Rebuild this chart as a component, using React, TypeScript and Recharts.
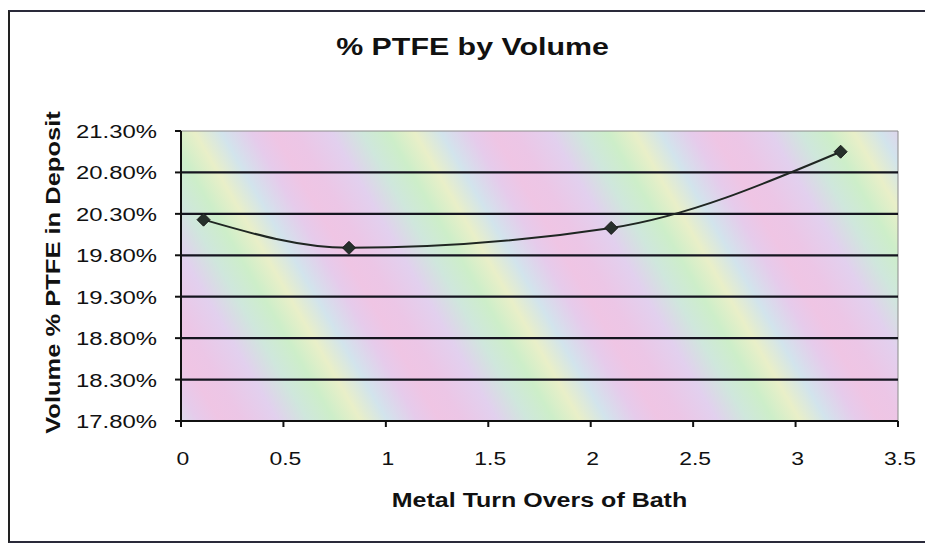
import React from "react";
import {
  LineChart,
  Line,
  XAxis,
  YAxis,
  ReferenceArea,
  ReferenceLine,
  Customized,
} from "recharts";

const xValues = [0.11, 0.82, 2.1, 3.22];
const yValues = [20.23, 19.89, 20.13, 21.05];
const xTicks = [0, 0.5, 1, 1.5, 2, 2.5, 3, 3.5];
const yTicks = [17.8, 18.3, 18.8, 19.3, 19.8, 20.3, 20.8, 21.3];
const chartTitle = "% PTFE by Volume";
const xTitle = "Metal Turn Overs of Bath";
const yTitle = "Volume % PTFE in Deposit";

const data = xValues.map((x, i) => ({ x, y: yValues[i] }));
const xDomain: [number, number] = [xTicks[0], xTicks[xTicks.length - 1]];
const yDomain: [number, number] = [yTicks[0], yTicks[yTicks.length - 1]];
const innerY = yTicks.slice(1, -1);

const FONT = "'Liberation Sans', Arial, sans-serif";

const YTick = (props: any) => {
  const { x, y, payload } = props;
  return (
    <g transform={`translate(${x},${y})`}>
      <text
        transform="scale(1.29,1)"
        x={0}
        y={7}
        textAnchor="end"
        fontSize={18.5}
        fontFamily={FONT}
        fill="#111"
      >
        {payload.value.toFixed(2) + "%"}
      </text>
    </g>
  );
};

const XTick = (props: any) => {
  const { x, y, payload } = props;
  return (
    <g transform={`translate(${x + 2},${y})`}>
      <text
        transform="scale(1.24,1)"
        x={0}
        y={36}
        textAnchor="middle"
        fontSize={18.5}
        fontFamily={FONT}
        fill="#111"
      >
        {String(payload.value)}
      </text>
    </g>
  );
};

const Diamond = (props: any) => {
  const { cx, cy, index } = props;
  if (cx == null || cy == null) return <g key={index} />;
  const r = 6.5;
  return (
    <path
      key={index}
      d={`M${cx},${cy - r} L${cx + r},${cy} L${cx},${cy + r} L${cx - r},${cy} Z`}
      fill="#26302b"
      stroke="#1a1a1a"
      strokeWidth={1}
    />
  );
};

const Titles = () => (
  <g>
    <text
      transform="translate(472.5,55) scale(1.32,1)"
      textAnchor="middle"
      fontSize={23}
      fontWeight={700}
      fontFamily={FONT}
      fill="#111"
    >
      {chartTitle}
    </text>
    <text
      transform="translate(539.5,507) scale(1.22,1)"
      textAnchor="middle"
      fontSize={20.5}
      fontWeight={700}
      fontFamily={FONT}
      fill="#111"
    >
      {xTitle}
    </text>
    <text
      transform="translate(60,272.5) rotate(-90) scale(1.245,1)"
      textAnchor="middle"
      fontSize={20.5}
      fontWeight={700}
      fontFamily={FONT}
      fill="#111"
    >
      {yTitle}
    </text>
  </g>
);

export default function App() {
  return (
    <div
      style={{
        position: "absolute",
        left: 0,
        top: 0,
        width: 925,
        height: 543,
        background: "#fff",
        overflow: "hidden",
      }}
    >
      <div
        style={{
          position: "absolute",
          left: 8,
          top: 10,
          width: 930,
          height: 529,
          borderLeft: "2px solid #222",
          borderTop: "2px solid #2a2a3a",
          borderBottom: "2px solid #2a2a3a",
        }}
      />
      <LineChart
        width={925}
        height={543}
        data={data}
        margin={{ top: 131, right: 27, left: 0, bottom: 0 }}
        style={{ position: "absolute", left: 0, top: 0 }}
      >
        <defs>
          <linearGradient
            id="rainbow"
            gradientUnits="userSpaceOnUse"
            x1={0}
            y1={0}
            x2={165}
            y2={-95}
            spreadMethod="repeat"
          >
            <stop offset="0" stopColor="#ecc6e6" />
            <stop offset="0.16" stopColor="#e2d0ee" />
            <stop offset="0.3" stopColor="#cfe7dc" />
            <stop offset="0.42" stopColor="#cdeec9" />
            <stop offset="0.54" stopColor="#e9efc8" />
            <stop offset="0.66" stopColor="#d2e4ec" />
            <stop offset="0.8" stopColor="#e6cbeb" />
            <stop offset="0.9" stopColor="#efc5e4" />
            <stop offset="1" stopColor="#ecc6e6" />
          </linearGradient>
        </defs>
        <XAxis
          type="number"
          dataKey="x"
          domain={xDomain}
          ticks={xTicks}
          allowDataOverflow
          height={122}
          axisLine={{ stroke: "#111", strokeWidth: 2 }}
          tickLine={{ stroke: "#111", strokeWidth: 2 }}
          tickSize={6}
          tick={<XTick />}
        />
        <YAxis
          type="number"
          domain={yDomain}
          ticks={yTicks}
          allowDataOverflow
          width={181}
          axisLine={{ stroke: "#111", strokeWidth: 2 }}
          tickLine={{ stroke: "#111", strokeWidth: 2 }}
          tickSize={6}
          tickMargin={18}
          tick={<YTick />}
        />
        <ReferenceArea
          x1={xDomain[0]}
          x2={xDomain[1]}
          y1={yDomain[0]}
          y2={yDomain[1]}
          fill="url(#rainbow)"
          fillOpacity={1}
          stroke="#8a8a8a"
          strokeWidth={1}
          ifOverflow="visible"
        />
        {innerY.map((v) => (
          <ReferenceLine
            key={v}
            y={v}
            stroke="#15151f"
            strokeWidth={2.2}
          />
        ))}
        <Line
          type="monotoneX"
          dataKey="y"
          stroke="#1f2622"
          strokeWidth={2}
          dot={Diamond}
          activeDot={false}
          isAnimationActive={false}
        />
        <Customized component={Titles} />
      </LineChart>
    </div>
  );
}
